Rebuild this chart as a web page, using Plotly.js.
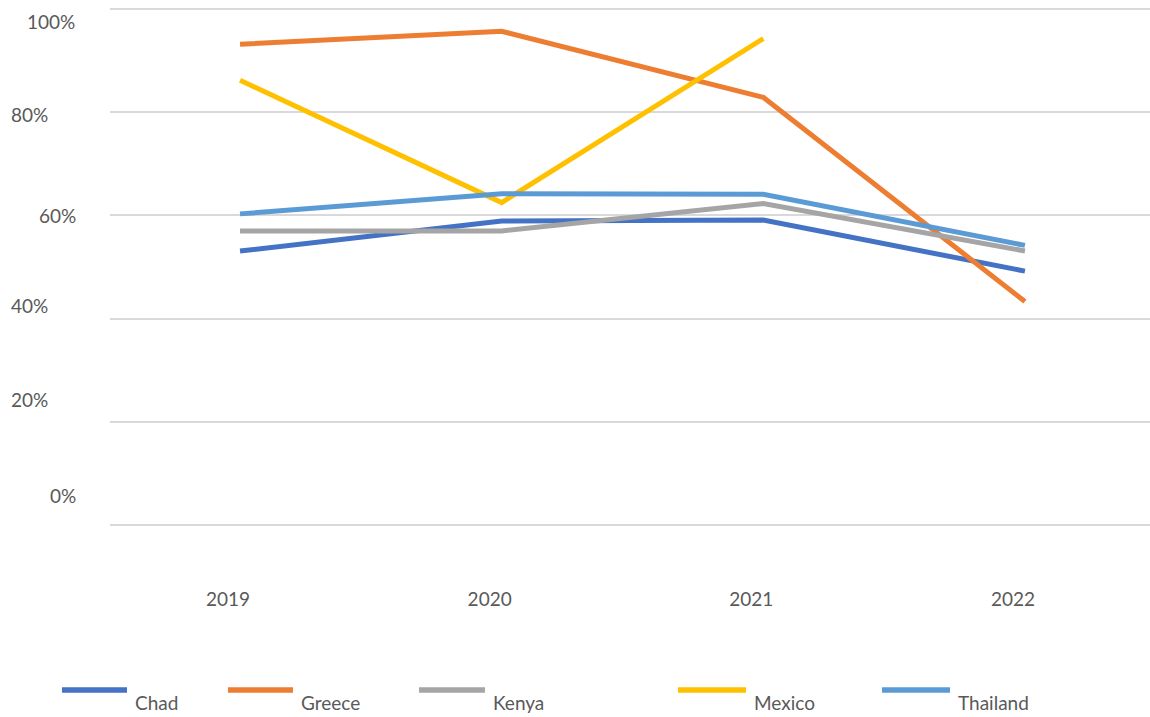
<!DOCTYPE html>
<html>
<head>
<meta charset="utf-8">
<script src="https://cdn.plot.ly/plotly-3.0.1.min.js"></script>
<style>html,body{margin:0;padding:0;background:#fff;}#chart{width:1150px;height:717px;}</style>
</head>
<body>
<div id="chart"></div>
<script>
// ---- data ----
const years = ["2019", "2020", "2021", "2022"];
const chad     = [53.1, 58.9, 59.1, 49.2];
const greece   = [93.2, 95.7, 82.9, 43.3];
const kenya    = [57.0, 57.0, 62.3, 53.1];
const mexico   = [86.2, 62.5, 94.3, null];
const thailand = [60.3, 64.2, 64.1, 54.2];
const seriesNames = ["Chad", "Greece", "Kenya", "Mexico", "Thailand"];
const yTickValues = [0, 20, 40, 60, 80, 100];
const yTickLabels = ["0%", "20%", "40%", "60%", "80%", "100%"];

// ---- styles ----
const colors = ["#4472C4", "#ED7D31", "#A5A5A5", "#FFC000", "#5B9BD5"];
const seriesValues = [chad, greece, kenya, mexico, thailand];
const FONT = "Lato, 'Open Sans', sans-serif";
const TEXT = "#595959";

const W = 1150, H = 717;
const M = {l: 110, r: 0, t: 4, b: 187};
const px2x = p => (p - M.l) / (W - M.l - M.r);
const py2y = p => (H - M.b - p) / (H - M.t - M.b);

const traces = seriesNames.map((n, i) => ({
  type: "scatter", mode: "lines", name: n, x: years, y: seriesValues[i],
  line: {color: colors[i], width: 5, shape: "linear"},
  connectgaps: false, cliponaxis: false, showlegend: false,
  hovertemplate: n + " %{x}: %{y:.0f}%<extra></extra>"
}));

// y-axis labels as in the reference (offset from their gridlines)
const yLabelPos = {  // right edge px, centre px
  "0%": [78, 495], "20%": [50, 399], "40%": [50, 305],
  "60%": [78, 215], "80%": [50, 115], "100%": [77, 21.5]
};
const annotations = [];
yTickLabels.forEach(t => {
  const p = yLabelPos[t];
  annotations.push({xref: "paper", yref: "paper", x: px2x(p[0]), y: py2y(p[1]),
    xanchor: "right", yanchor: "middle", text: t, showarrow: false,
    font: {family: FONT, size: 19, color: TEXT}});
});

// legend (drawn below the plot)
const legLine = [[62, 127], [228, 293], [419, 485], [678, 746], [882, 950]];
const shapes = [];
seriesNames.forEach((n, i) => {
  shapes.push({type: "line", xref: "paper", yref: "paper",
    x0: px2x(legLine[i][0]), x1: px2x(legLine[i][1]), y0: py2y(690), y1: py2y(690),
    line: {color: colors[i], width: 5.5}});
  annotations.push({xref: "paper", yref: "paper", x: px2x(legLine[i][1] + 6), y: py2y(702),
    xanchor: "left", yanchor: "middle", text: n, showarrow: false,
    font: {family: FONT, size: 19, color: TEXT}});
});

const layout = {
  width: W, height: H, margin: M,
  paper_bgcolor: "#fff", plot_bgcolor: "#fff",
  showlegend: false,
  font: {family: FONT, color: TEXT},
  xaxis: {type: "category", range: [-0.497, 3.478], showgrid: false, zeroline: false,
    showline: false, ticks: "", ticklabelstandoff: 56, ticklabelshift: -12,
    tickfont: {family: FONT, size: 19, color: TEXT}, fixedrange: true},
  yaxis: {range: [-1, 101], tickvals: yTickValues, showticklabels: false,
    showgrid: true, gridcolor: "#D9D9D9", gridwidth: 2, zeroline: false,
    showline: false, fixedrange: true},
  shapes: shapes, annotations: annotations
};

Plotly.newPlot("chart", traces, layout, {displayModeBar: false, staticPlot: true});
</script>
</body>
</html>
